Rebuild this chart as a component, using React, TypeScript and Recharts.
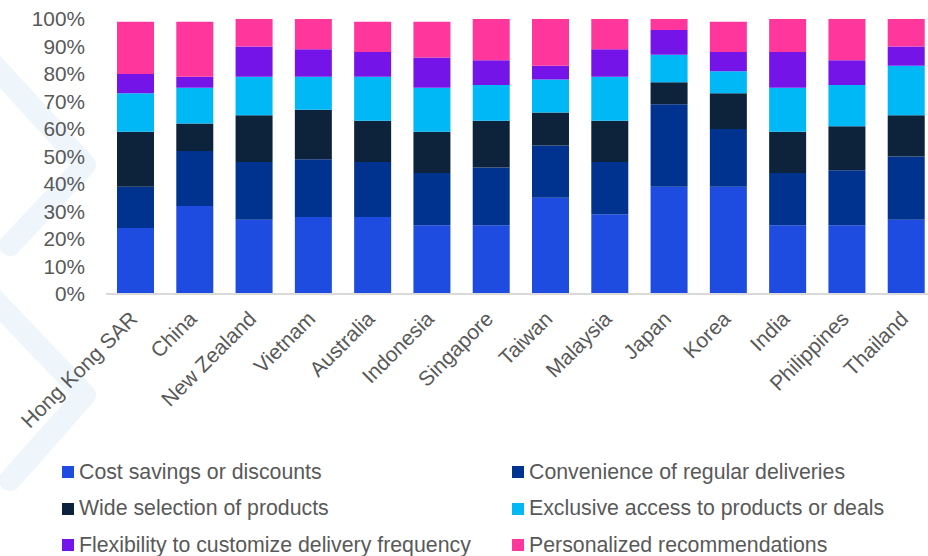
import React from "react";
import { BarChart, Bar, XAxis, YAxis, Legend } from "recharts";

const FONT = "'Liberation Sans', Arial, sans-serif";
const TEXT = "#595959";

const markets = [
  "Hong Kong SAR",
  "China",
  "New Zealand",
  "Vietnam",
  "Australia",
  "Indonesia",
  "Singapore",
  "Taiwan",
  "Malaysia",
  "Japan",
  "Korea",
  "India",
  "Philippines",
  "Thailand",
];

const costSavings = [24, 32, 27, 28, 28, 25, 25, 35, 29, 39, 39, 25, 25, 27];
const convenience = [15, 20, 21, 21, 20, 19, 21, 19, 19, 30, 21, 19, 20, 23];
const wideSelection = [20, 10, 17, 18, 15, 15, 17, 12, 15, 8, 13, 15, 16, 15];
const exclusiveAccess = [14, 13, 14, 12, 16, 16, 13, 12, 16, 10, 8, 16, 15, 18];
const flexibility = [7, 4, 11, 10, 9, 11, 9, 5, 10, 9, 7, 13, 9, 7];
const personalized = [19, 20, 10, 11, 11, 13, 15, 17, 11, 4, 11, 12, 15, 10];

const yTicks = [0, 10, 20, 30, 40, 50, 60, 70, 80, 90, 100];

const series = [
  { key: "cost", name: "Cost savings or discounts", color: "#1f4ce0", values: costSavings },
  { key: "conv", name: "Convenience of regular deliveries", color: "#00338f", values: convenience },
  { key: "wide", name: "Wide selection of products", color: "#0d233b", values: wideSelection },
  { key: "excl", name: "Exclusive access to products or deals", color: "#00b8f5", values: exclusiveAccess },
  { key: "flex", name: "Flexibility to customize delivery frequency", color: "#7514e8", values: flexibility },
  { key: "pers", name: "Personalized recommendations", color: "#ff369c", values: personalized },
];

const data = markets.map((m, i) => {
  const row: any = { market: m };
  series.forEach((s) => {
    row[s.key] = s.values[i];
  });
  return row;
});

const AngledTick = (props: any) => {
  const { x, y, payload } = props;
  return (
    <g transform={`translate(${x - 2},${y + 13})`}>
      <text
        textAnchor="end"
        transform="rotate(-45)"
        fill={TEXT}
        fontSize={21}
        fontFamily={FONT}
        dy="0.35em"
      >
        {payload.value}
      </text>
    </g>
  );
};

const LegendBox = () => (
  <div
    style={{
      display: "grid",
      gridTemplateColumns: "450px 400px",
      fontFamily: FONT,
      fontSize: 21.3,
      color: TEXT,
    }}
  >
    {series.map((s) => (
      <div key={s.key} style={{ display: "flex", alignItems: "center", height: 36.5 }}>
        <span
          style={{
            width: 12,
            height: 12,
            background: s.color,
            marginRight: 5,
            display: "inline-block",
          }}
        />
        <span style={{ whiteSpace: "nowrap" }}>{s.name}</span>
      </div>
    ))}
  </div>
);

export default function App() {
  return (
    <div
      style={{
        position: "absolute",
        left: 0,
        top: 0,
        width: 928,
        height: 556,
        overflow: "hidden",
        background: "#fff",
      }}
    >
      {/* faint chevron decoration on the left */}
      <svg width={120} height={556} style={{ position: "absolute", left: 0, top: 0 }}>
        <polyline
          points="-20,50 85,165 10,245"
          fill="none"
          stroke="#eef6fc"
          strokeWidth={22}
          strokeLinejoin="round"
          strokeLinecap="round"
        />
        <polyline
          points="-20,285 85,395 10,480"
          fill="none"
          stroke="#eef6fc"
          strokeWidth={22}
          strokeLinejoin="round"
          strokeLinecap="round"
        />
      </svg>
      <div style={{ position: "absolute", left: 0, top: 0 }}>
        <BarChart
          width={950}
          height={556}
          data={data}
          margin={{ top: 19, right: 14, left: 0, bottom: 0 }}
          barSize={37}
        >
          <XAxis
            dataKey="market"
            interval={0}
            height={262}
            tickLine={false}
            axisLine={{ stroke: "#d9d9d9", strokeWidth: 2 }}
            tick={<AngledTick />}
          />
          <YAxis
            domain={[0, 100]}
            ticks={yTicks}
            interval={0}
            tickFormatter={(v) => `${v}%`}
            width={106}
            axisLine={false}
            tickLine={false}
            tickSize={0}
            tickMargin={21}
            tick={{ fill: TEXT, fontSize: 20.8, fontFamily: FONT }}
            allowDataOverflow
          />
          <Legend
            layout="horizontal"
            verticalAlign="middle"
            align="center"
            content={<LegendBox />}
            wrapperStyle={{ top: 454, left: 62, width: 870, height: 110 }}
          />
          {series.map((s) => (
            <Bar
              key={s.key}
              dataKey={s.key}
              name={s.name}
              stackId="a"
              fill={s.color}
              isAnimationActive={false}
            />
          ))}
        </BarChart>
      </div>
    </div>
  );
}
